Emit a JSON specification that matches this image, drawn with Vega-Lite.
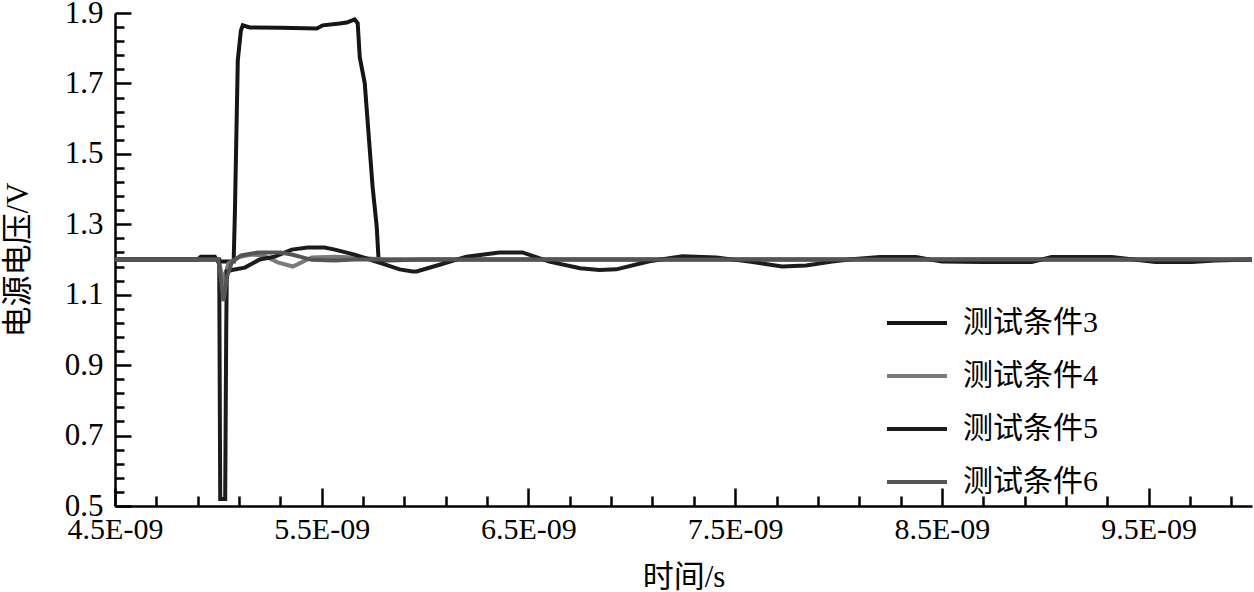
{
  "$schema": "https://vega.github.io/schema/vega-lite/v6.json",
  "width": 1137,
  "height": 493,
  "autosize": {"type": "none"},
  "padding": {"left": 115, "top": 13, "right": 2, "bottom": 86},
  "background": "white",
  "config": {"view": {"stroke": null}, "font": "Liberation Serif, Noto Sans CJK SC"},
  "data": {"values": [
    {"s": "测试条件3", "t": 4.5, "v": 1.2},
    {"s": "测试条件3", "t": 4.9, "v": 1.2},
    {"s": "测试条件3", "t": 4.915, "v": 1.208},
    {"s": "测试条件3", "t": 4.983, "v": 1.208},
    {"s": "测试条件3", "t": 4.998, "v": 1.194},
    {"s": "测试条件3", "t": 5.074, "v": 1.194},
    {"s": "测试条件3", "t": 5.08, "v": 1.333},
    {"s": "测试条件3", "t": 5.094, "v": 1.766},
    {"s": "测试条件3", "t": 5.109, "v": 1.85},
    {"s": "测试条件3", "t": 5.118, "v": 1.865},
    {"s": "测试条件3", "t": 5.152, "v": 1.859},
    {"s": "测试条件3", "t": 5.3, "v": 1.858},
    {"s": "测试条件3", "t": 5.476, "v": 1.856},
    {"s": "测试条件3", "t": 5.505, "v": 1.865},
    {"s": "测试条件3", "t": 5.587, "v": 1.87},
    {"s": "测试条件3", "t": 5.621, "v": 1.873},
    {"s": "测试条件3", "t": 5.659, "v": 1.882},
    {"s": "测试条件3", "t": 5.674, "v": 1.871},
    {"s": "测试条件3", "t": 5.684, "v": 1.774},
    {"s": "测试条件3", "t": 5.708, "v": 1.701},
    {"s": "测试条件3", "t": 5.746, "v": 1.407},
    {"s": "测试条件3", "t": 5.766, "v": 1.293},
    {"s": "测试条件3", "t": 5.775, "v": 1.2},
    {"s": "测试条件3", "t": 5.8, "v": 1.197},
    {"s": "测试条件3", "t": 6.0, "v": 1.2},
    {"s": "测试条件3", "t": 10, "v": 1.2},

    {"s": "测试条件4", "t": 4.5, "v": 1.2},
    {"s": "测试条件4", "t": 5.0, "v": 1.2},
    {"s": "测试条件4", "t": 5.012, "v": 1.17},
    {"s": "测试条件4", "t": 5.022, "v": 1.13},
    {"s": "测试条件4", "t": 5.033, "v": 1.16},
    {"s": "测试条件4", "t": 5.05, "v": 1.19},
    {"s": "测试条件4", "t": 5.1, "v": 1.207},
    {"s": "测试条件4", "t": 5.162, "v": 1.214},
    {"s": "测试条件4", "t": 5.215, "v": 1.212},
    {"s": "测试条件4", "t": 5.287, "v": 1.192},
    {"s": "测试条件4", "t": 5.36, "v": 1.18},
    {"s": "测试条件4", "t": 5.452, "v": 1.206},
    {"s": "测试条件4", "t": 5.563, "v": 1.208},
    {"s": "测试条件4", "t": 5.659, "v": 1.206},
    {"s": "测试条件4", "t": 5.8, "v": 1.2},
    {"s": "测试条件4", "t": 10, "v": 1.2},

    {"s": "测试条件5", "t": 4.5, "v": 1.2},
    {"s": "测试条件5", "t": 5.004, "v": 1.2},
    {"s": "测试条件5", "t": 5.009, "v": 0.52},
    {"s": "测试条件5", "t": 5.033, "v": 0.52},
    {"s": "测试条件5", "t": 5.038, "v": 1.0},
    {"s": "测试条件5", "t": 5.041, "v": 1.166},
    {"s": "测试条件5", "t": 5.065, "v": 1.17},
    {"s": "测试条件5", "t": 5.128, "v": 1.177},
    {"s": "测试条件5", "t": 5.2, "v": 1.2},
    {"s": "测试条件5", "t": 5.273, "v": 1.208},
    {"s": "测试条件5", "t": 5.355, "v": 1.228},
    {"s": "测试条件5", "t": 5.432, "v": 1.234},
    {"s": "测试条件5", "t": 5.514, "v": 1.234},
    {"s": "测试条件5", "t": 5.563, "v": 1.228},
    {"s": "测试条件5", "t": 5.659, "v": 1.214},
    {"s": "测试条件5", "t": 5.732, "v": 1.2},
    {"s": "测试条件5", "t": 5.804, "v": 1.186},
    {"s": "测试条件5", "t": 5.877, "v": 1.172},
    {"s": "测试条件5", "t": 5.94, "v": 1.166},
    {"s": "测试条件5", "t": 5.959, "v": 1.166},
    {"s": "测试条件5", "t": 6.07, "v": 1.185},
    {"s": "测试条件5", "t": 6.2, "v": 1.208},
    {"s": "测试条件5", "t": 6.36, "v": 1.22},
    {"s": "测试条件5", "t": 6.471, "v": 1.22},
    {"s": "测试条件5", "t": 6.601, "v": 1.194},
    {"s": "测试条件5", "t": 6.75, "v": 1.175},
    {"s": "测试条件5", "t": 6.843, "v": 1.17},
    {"s": "测试条件5", "t": 6.925, "v": 1.172},
    {"s": "测试条件5", "t": 7.085, "v": 1.195},
    {"s": "测试条件5", "t": 7.244, "v": 1.209},
    {"s": "测试条件5", "t": 7.408, "v": 1.206},
    {"s": "测试条件5", "t": 7.568, "v": 1.194},
    {"s": "测试条件5", "t": 7.727, "v": 1.18},
    {"s": "测试条件5", "t": 7.843, "v": 1.183},
    {"s": "测试条件5", "t": 7.969, "v": 1.194},
    {"s": "测试条件5", "t": 8.051, "v": 1.2},
    {"s": "测试条件5", "t": 8.2, "v": 1.207},
    {"s": "测试条件5", "t": 8.374, "v": 1.207},
    {"s": "测试条件5", "t": 8.5, "v": 1.194},
    {"s": "测试条件5", "t": 8.7, "v": 1.193},
    {"s": "测试条件5", "t": 8.935, "v": 1.193},
    {"s": "测试条件5", "t": 9.031, "v": 1.207},
    {"s": "测试条件5", "t": 9.321, "v": 1.207},
    {"s": "测试条件5", "t": 9.534, "v": 1.193},
    {"s": "测试条件5", "t": 9.708, "v": 1.193},
    {"s": "测试条件5", "t": 9.821, "v": 1.197},
    {"s": "测试条件5", "t": 10, "v": 1.2},

    {"s": "测试条件6", "t": 4.5, "v": 1.2},
    {"s": "测试条件6", "t": 5.0, "v": 1.2},
    {"s": "测试条件6", "t": 5.015, "v": 1.13},
    {"s": "测试条件6", "t": 5.024, "v": 1.082},
    {"s": "测试条件6", "t": 5.03, "v": 1.1},
    {"s": "测试条件6", "t": 5.041, "v": 1.15},
    {"s": "测试条件6", "t": 5.065, "v": 1.192},
    {"s": "测试条件6", "t": 5.11, "v": 1.212},
    {"s": "测试条件6", "t": 5.191, "v": 1.22},
    {"s": "测试条件6", "t": 5.3, "v": 1.22},
    {"s": "测试条件6", "t": 5.355, "v": 1.214},
    {"s": "测试条件6", "t": 5.452, "v": 1.199},
    {"s": "测试条件6", "t": 5.563, "v": 1.197},
    {"s": "测试条件6", "t": 5.659, "v": 1.2},
    {"s": "测试条件6", "t": 10, "v": 1.2}
  ]},
  "layer": [
    {
      "mark": {"type": "line", "strokeWidth": 4, "clip": true},
      "encoding": {
        "x": {"field": "t", "type": "quantitative",
          "scale": {"domain": [4.5, 10], "nice": false, "zero": false},
          "axis": {"orient": "bottom", "values": [4.5, 5.5, 6.5, 7.5, 8.5, 9.5],
            "labelExpr": "format(datum.value, '.1f') + 'E-09'",
            "ticks": false,
            "domainColor": "black", "domainWidth": 2.5, "grid": false,
            "labelPadding": 8, "labelFontSize": 30, "labelColor": "black", "labelFont": "Liberation Serif",
            "labelFlush": false, "labelOverlap": false,
            "title": "时间/s", "titleFontSize": 31, "titleFont": "Liberation Serif, Noto Sans CJK SC",
            "titleFontWeight": "normal", "titleColor": "black", "titlePadding": 18}},
        "y": {"field": "v", "type": "quantitative",
          "scale": {"domain": [0.5, 1.9], "nice": false, "zero": false},
          "axis": {"orient": "left", "values": [0.5, 0.7, 0.9, 1.1, 1.3, 1.5, 1.7, 1.9],
            "format": ".1f",
            "ticks": false,
            "domainColor": "black", "domainWidth": 2.5, "grid": false,
            "labelPadding": 12, "labelFontSize": 31, "labelColor": "black", "labelFont": "Liberation Serif",
            "labelFlush": false, "labelOverlap": false,
            "title": "电源电压/V", "titleFontSize": 31, "titleFont": "Liberation Serif, Noto Sans CJK SC",
            "titleFontWeight": "normal", "titleColor": "black", "titlePadding": 30}},
        "color": {"field": "s", "type": "nominal",
          "scale": {"domain": ["测试条件3", "测试条件4", "测试条件5", "测试条件6"],
                    "range": ["#151515", "#7a7a7a", "#1c1c1c", "#555555"]},
          "legend": {"orient": "none", "legendX": 770, "legendY": 278, "title": null,
            "symbolType": "stroke", "symbolSize": 3600, "symbolStrokeWidth": 4,
            "labelFontSize": 30, "labelFont": "Liberation Serif, Noto Sans CJK SC", "labelColor": "black",
            "labelOffset": 14, "rowPadding": 6, "padding": 0}}
      }
    },
    {
      "mark": {"type": "line", "opacity": 0},
      "encoding": {
        "x": {"field": "t", "type": "quantitative",
          "scale": {"domain": [4.5, 10], "nice": false, "zero": false},
          "axis": {"orient": "bottom", "values": [4.5, 5.5, 6.5, 7.5, 8.5, 9.5],
            "labels": false, "domain": false, "grid": false, "title": null, "offset": -18,
            "tickSize": 18, "tickWidth": 2.5, "tickColor": "black"}},
        "y": {"field": "v", "type": "quantitative",
          "scale": {"domain": [0.5, 1.9], "nice": false, "zero": false},
          "axis": {"orient": "left", "values": [0.5, 0.7, 0.9, 1.1, 1.3, 1.5, 1.7, 1.9],
            "labels": false, "domain": false, "grid": false, "title": null, "offset": -16,
            "tickSize": 16, "tickWidth": 2.5, "tickColor": "black"}}
      }
    },
    {
      "mark": {"type": "line", "opacity": 0},
      "encoding": {
        "x": {"field": "t", "type": "quantitative",
          "scale": {"domain": [4.5, 10], "nice": false, "zero": false},
          "axis": {"orient": "bottom", "values": [4.7, 4.9, 5.1, 5.3, 5.7, 5.9, 6.1, 6.3, 6.7, 6.9, 7.1, 7.3, 7.7, 7.9, 8.1, 8.3, 8.7, 8.9, 9.1, 9.3, 9.7, 9.9],
            "labels": false, "domain": false, "grid": false, "title": null, "offset": -10,
            "tickSize": 10, "tickWidth": 2.5, "tickColor": "black"}},
        "y": {"field": "v", "type": "quantitative",
          "scale": {"domain": [0.5, 1.9], "nice": false, "zero": false},
          "axis": {"orient": "left", "values": [0.54, 0.58, 0.62, 0.66, 0.74, 0.78, 0.82, 0.86, 0.94, 0.98, 1.02, 1.06, 1.14, 1.18, 1.22, 1.26, 1.34, 1.38, 1.42, 1.46, 1.54, 1.58, 1.62, 1.66, 1.74, 1.78, 1.82, 1.86],
            "labels": false, "domain": false, "grid": false, "title": null, "offset": -9,
            "tickSize": 9, "tickWidth": 2.5, "tickColor": "black"}}
      }
    }
  ],
  "resolve": {"axis": {"x": "independent", "y": "independent"}}
}
